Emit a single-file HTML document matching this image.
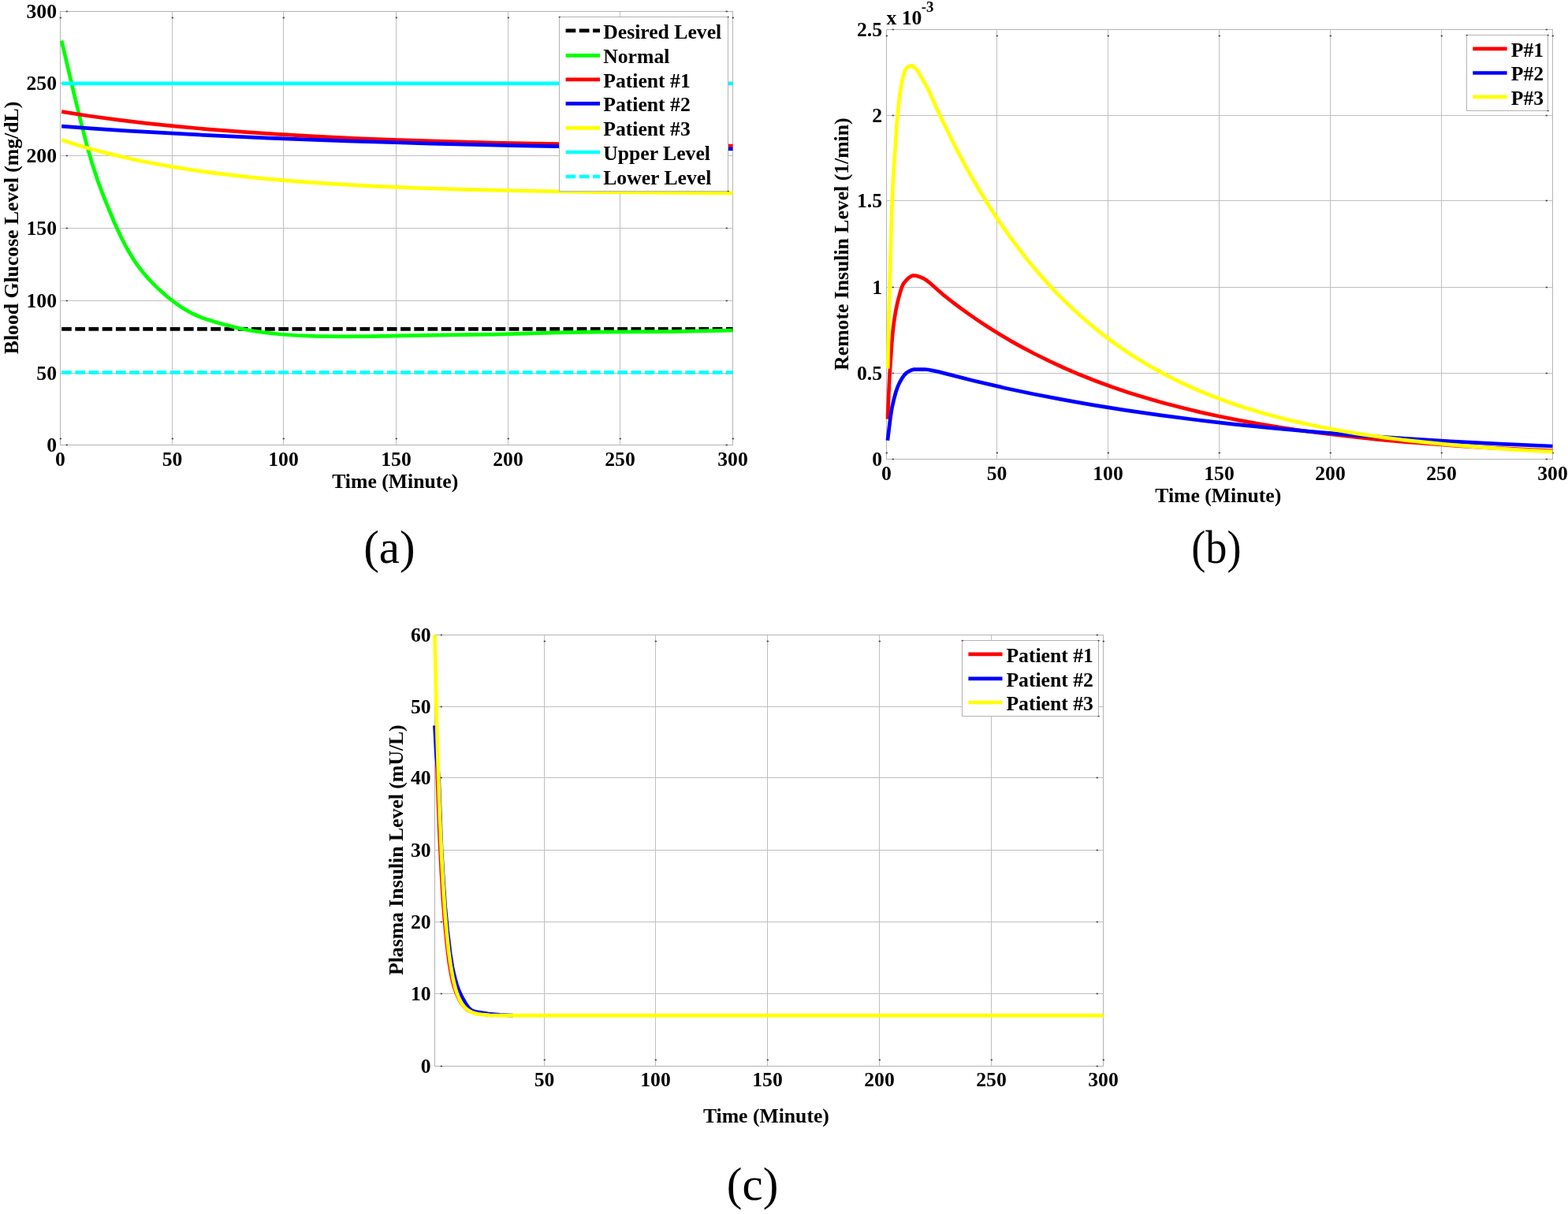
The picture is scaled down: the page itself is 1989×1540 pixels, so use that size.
<!DOCTYPE html>
<html><head><meta charset="utf-8"><title>Figure</title>
<style>
html,body{margin:0;padding:0;background:#fff;}
body{width:1989px;height:1540px;overflow:hidden;}
svg{display:block;}
text{font-family:'Liberation Serif', 'Times New Roman', serif;font-size:25.7px;font-weight:bold;fill:#000;}
</style></head><body>
<svg width="1989" height="1540" viewBox="0 0 1989 1540">
<rect width="1989" height="1540" fill="#fff"/>
<line x1="218.5" y1="14" x2="218.5" y2="565" stroke="#bfbfbf"/>
<line x1="359.5" y1="14" x2="359.5" y2="565" stroke="#bfbfbf"/>
<line x1="502.5" y1="14" x2="502.5" y2="565" stroke="#bfbfbf"/>
<line x1="644.5" y1="14" x2="644.5" y2="565" stroke="#bfbfbf"/>
<line x1="786.5" y1="14" x2="786.5" y2="565" stroke="#bfbfbf"/>
<line x1="76" y1="105.5" x2="930" y2="105.5" stroke="#bfbfbf"/>
<line x1="76" y1="197.5" x2="930" y2="197.5" stroke="#bfbfbf"/>
<line x1="76" y1="289.5" x2="930" y2="289.5" stroke="#bfbfbf"/>
<line x1="76" y1="381.5" x2="930" y2="381.5" stroke="#bfbfbf"/>
<line x1="76" y1="473.5" x2="930" y2="473.5" stroke="#bfbfbf"/>
<rect x="76.5" y="14.5" width="853" height="550" fill="none" stroke="#b3b3b3"/>
<rect x="75.7" y="21.7" width="2.2" height="1.6" fill="#3a3a3a"/>
<rect x="75.7" y="555.7" width="2.2" height="1.6" fill="#3a3a3a"/>
<rect x="217.7" y="21.7" width="2.2" height="1.6" fill="#3a3a3a"/>
<rect x="217.7" y="555.7" width="2.2" height="1.6" fill="#3a3a3a"/>
<rect x="358.7" y="21.7" width="2.2" height="1.6" fill="#3a3a3a"/>
<rect x="358.7" y="555.7" width="2.2" height="1.6" fill="#3a3a3a"/>
<rect x="501.7" y="21.7" width="2.2" height="1.6" fill="#3a3a3a"/>
<rect x="501.7" y="555.7" width="2.2" height="1.6" fill="#3a3a3a"/>
<rect x="643.7" y="21.7" width="2.2" height="1.6" fill="#3a3a3a"/>
<rect x="643.7" y="555.7" width="2.2" height="1.6" fill="#3a3a3a"/>
<rect x="785.7" y="21.7" width="2.2" height="1.6" fill="#3a3a3a"/>
<rect x="785.7" y="555.7" width="2.2" height="1.6" fill="#3a3a3a"/>
<rect x="928.7" y="21.7" width="2.2" height="1.6" fill="#3a3a3a"/>
<rect x="928.7" y="555.7" width="2.2" height="1.6" fill="#3a3a3a"/>
<rect x="83.7" y="13.7" width="2.2" height="1.6" fill="#3a3a3a"/>
<rect x="920.7" y="13.7" width="2.2" height="1.6" fill="#3a3a3a"/>
<rect x="83.7" y="104.7" width="2.2" height="1.6" fill="#3a3a3a"/>
<rect x="920.7" y="104.7" width="2.2" height="1.6" fill="#3a3a3a"/>
<rect x="83.7" y="196.7" width="2.2" height="1.6" fill="#3a3a3a"/>
<rect x="920.7" y="196.7" width="2.2" height="1.6" fill="#3a3a3a"/>
<rect x="83.7" y="288.7" width="2.2" height="1.6" fill="#3a3a3a"/>
<rect x="920.7" y="288.7" width="2.2" height="1.6" fill="#3a3a3a"/>
<rect x="83.7" y="380.7" width="2.2" height="1.6" fill="#3a3a3a"/>
<rect x="920.7" y="380.7" width="2.2" height="1.6" fill="#3a3a3a"/>
<rect x="83.7" y="472.7" width="2.2" height="1.6" fill="#3a3a3a"/>
<rect x="920.7" y="472.7" width="2.2" height="1.6" fill="#3a3a3a"/>
<rect x="83.7" y="563.7" width="2.2" height="1.6" fill="#3a3a3a"/>
<rect x="920.7" y="563.7" width="2.2" height="1.6" fill="#3a3a3a"/>
<line x1="78.1" y1="417.4" x2="929.5" y2="417.4" stroke="#000" stroke-width="4.7" stroke-dasharray="12.7 4.5"/>
<path d="M78.1,51.5 L93.1,115.6 L102.8,155.5 L109.9,183.1 L116.4,205.9 L123.8,228.7 L131.5,249.4 L144.5,281 L149.4,291.8 L154.2,302 L158.7,310.8 L163,318.5 L167.5,326.1 L172.1,333.1 L176.9,339.8 L182,346.3 L187.4,352.6 L193.4,359 L200.2,365.7 L207.8,372.6 L215.5,379 L222.9,384.7 L229.7,389.4 L236.5,393.6 L243.3,397.3 L250.4,400.6 L256.1,403 L262.1,405.1 L276.3,409.4 L301.2,415.9 L308.6,417.5 L317.7,419.2 L335.9,421.9 L355.5,424 L376.8,425.5 L400,426.4 L430.7,426.9 L471,426.6 L553.3,425.1 L630.6,424.1 L699.3,422.1 L725.4,421.6 L758.6,421.2 L851.1,420.6 L929.5,419.1" fill="none" stroke="#00ff00" stroke-width="4.7" stroke-linejoin="round"/>
<path d="M78.1,141.6 L112.4,147 L148.2,151.8 L185.4,156.3 L224.6,160.4 L265.5,164.1 L308.6,167.4 L354,170.4 L402.3,173.1 L452.6,175.5 L506.2,177.6 L563.6,179.4 L625.2,181 L691.3,182.3 L763.4,183.4 L842.3,184.4 L929.5,185.2" fill="none" stroke="#ff0000" stroke-width="4.7" stroke-linejoin="round"/>
<path d="M78.1,160.2 L118.4,163.1 L159.9,165.8 L247,170.7 L339.8,175.1 L439.5,178.9 L546.8,182.1 L662.9,184.8 L789.8,187.1 L929.5,189" fill="none" stroke="#0000ff" stroke-width="4.7" stroke-linejoin="round"/>
<path d="M78.1,177.5 L92.9,182.3 L108.2,186.9 L123.8,191.3 L139.7,195.4 L156.2,199.3 L172.9,203 L190.2,206.5 L208.1,209.8 L226.6,212.9 L245.3,215.8 L264.9,218.6 L285.1,221.1 L327.4,225.8 L372.8,229.8 L420.5,233.2 L472.4,236.1 L528.9,238.5 L591.4,240.4 L660.1,242 L737.6,243.3 L826.2,244.2 L929.5,244.9" fill="none" stroke="#ffff00" stroke-width="4.7" stroke-linejoin="round"/>
<line x1="78.1" y1="105.8" x2="929.5" y2="105.8" stroke="#00ffff" stroke-width="4.7"/>
<line x1="78.1" y1="472.5" x2="929.5" y2="472.5" stroke="#00ffff" stroke-width="4.7" stroke-dasharray="12.7 4.5"/>
<rect x="709.5" y="21.5" width="214" height="221" fill="#fff" stroke="#b3b3b3"/>
<rect x="708.7" y="20.9" width="2" height="1.4" fill="#3a3a3a"/>
<rect x="922.7" y="20.9" width="2" height="1.4" fill="#3a3a3a"/>
<rect x="922.7" y="241.9" width="2" height="1.4" fill="#3a3a3a"/>
<line x1="717.6" y1="38.9" x2="761" y2="38.9" stroke="#000" stroke-width="4.7" stroke-dasharray="12.7 4.5"/>
<text x="765.2" y="48.5">Desired Level</text>
<line x1="717.6" y1="70.3" x2="761" y2="70.3" stroke="#00ff00" stroke-width="4.7"/>
<text x="765.2" y="79.9">Normal</text>
<line x1="717.6" y1="100.9" x2="761" y2="100.9" stroke="#ff0000" stroke-width="4.7"/>
<text x="765.2" y="110.5">Patient #1</text>
<line x1="717.6" y1="131.4" x2="761" y2="131.4" stroke="#0000ff" stroke-width="4.7"/>
<text x="765.2" y="141">Patient #2</text>
<line x1="717.6" y1="162.4" x2="761" y2="162.4" stroke="#ffff00" stroke-width="4.7"/>
<text x="765.2" y="172">Patient #3</text>
<line x1="717.6" y1="193" x2="761" y2="193" stroke="#00ffff" stroke-width="4.7"/>
<text x="765.2" y="202.6">Upper Level</text>
<line x1="717.6" y1="224" x2="761" y2="224" stroke="#00ffff" stroke-width="4.7" stroke-dasharray="12.7 4.5"/>
<text x="765.2" y="233.6">Lower Level</text>
<text x="72" y="572.8" text-anchor="end">0</text>
<text x="72" y="481.8" text-anchor="end">50</text>
<text x="72" y="389.8" text-anchor="end">100</text>
<text x="72" y="297.8" text-anchor="end">150</text>
<text x="72" y="205.8" text-anchor="end">200</text>
<text x="72" y="113.8" text-anchor="end">250</text>
<text x="72" y="22.8" text-anchor="end">300</text>
<text x="76.5" y="590.9" text-anchor="middle">0</text>
<text x="218.5" y="590.9" text-anchor="middle">50</text>
<text x="359.5" y="590.9" text-anchor="middle">100</text>
<text x="502.5" y="590.9" text-anchor="middle">150</text>
<text x="644.5" y="590.9" text-anchor="middle">200</text>
<text x="786.5" y="590.9" text-anchor="middle">250</text>
<text x="929.5" y="590.9" text-anchor="middle">300</text>
<text x="501.2" y="619" text-anchor="middle">Time (Minute)</text>
<text transform="translate(22.7,289) rotate(-90)" text-anchor="middle">Blood Glucose Level (mg/dL)</text>
<text x="493.9" y="714.1" text-anchor="middle" style="font-size:59px;font-weight:normal">(a)</text>
<line x1="1264.5" y1="37" x2="1264.5" y2="583" stroke="#bfbfbf"/>
<line x1="1405.5" y1="37" x2="1405.5" y2="583" stroke="#bfbfbf"/>
<line x1="1546.5" y1="37" x2="1546.5" y2="583" stroke="#bfbfbf"/>
<line x1="1687.5" y1="37" x2="1687.5" y2="583" stroke="#bfbfbf"/>
<line x1="1828.5" y1="37" x2="1828.5" y2="583" stroke="#bfbfbf"/>
<line x1="1124" y1="146.5" x2="1970" y2="146.5" stroke="#bfbfbf"/>
<line x1="1124" y1="254.5" x2="1970" y2="254.5" stroke="#bfbfbf"/>
<line x1="1124" y1="364.5" x2="1970" y2="364.5" stroke="#bfbfbf"/>
<line x1="1124" y1="473.5" x2="1970" y2="473.5" stroke="#bfbfbf"/>
<rect x="1124.5" y="37.5" width="845" height="545" fill="none" stroke="#b3b3b3"/>
<rect x="1123.7" y="44.7" width="2.2" height="1.6" fill="#3a3a3a"/>
<rect x="1123.7" y="573.7" width="2.2" height="1.6" fill="#3a3a3a"/>
<rect x="1263.7" y="44.7" width="2.2" height="1.6" fill="#3a3a3a"/>
<rect x="1263.7" y="573.7" width="2.2" height="1.6" fill="#3a3a3a"/>
<rect x="1404.7" y="44.7" width="2.2" height="1.6" fill="#3a3a3a"/>
<rect x="1404.7" y="573.7" width="2.2" height="1.6" fill="#3a3a3a"/>
<rect x="1545.7" y="44.7" width="2.2" height="1.6" fill="#3a3a3a"/>
<rect x="1545.7" y="573.7" width="2.2" height="1.6" fill="#3a3a3a"/>
<rect x="1686.7" y="44.7" width="2.2" height="1.6" fill="#3a3a3a"/>
<rect x="1686.7" y="573.7" width="2.2" height="1.6" fill="#3a3a3a"/>
<rect x="1827.7" y="44.7" width="2.2" height="1.6" fill="#3a3a3a"/>
<rect x="1827.7" y="573.7" width="2.2" height="1.6" fill="#3a3a3a"/>
<rect x="1968.7" y="44.7" width="2.2" height="1.6" fill="#3a3a3a"/>
<rect x="1968.7" y="573.7" width="2.2" height="1.6" fill="#3a3a3a"/>
<rect x="1131.7" y="36.7" width="2.2" height="1.6" fill="#3a3a3a"/>
<rect x="1960.7" y="36.7" width="2.2" height="1.6" fill="#3a3a3a"/>
<rect x="1131.7" y="145.7" width="2.2" height="1.6" fill="#3a3a3a"/>
<rect x="1960.7" y="145.7" width="2.2" height="1.6" fill="#3a3a3a"/>
<rect x="1131.7" y="253.7" width="2.2" height="1.6" fill="#3a3a3a"/>
<rect x="1960.7" y="253.7" width="2.2" height="1.6" fill="#3a3a3a"/>
<rect x="1131.7" y="363.7" width="2.2" height="1.6" fill="#3a3a3a"/>
<rect x="1960.7" y="363.7" width="2.2" height="1.6" fill="#3a3a3a"/>
<rect x="1131.7" y="472.7" width="2.2" height="1.6" fill="#3a3a3a"/>
<rect x="1960.7" y="472.7" width="2.2" height="1.6" fill="#3a3a3a"/>
<rect x="1131.7" y="581.7" width="2.2" height="1.6" fill="#3a3a3a"/>
<rect x="1960.7" y="581.7" width="2.2" height="1.6" fill="#3a3a3a"/>
<path d="M1125.9,531.7 L1128.4,477 L1131,438.6 L1132.1,425.1 L1133.2,414.5 L1134.9,402.3 L1136.6,392.4 L1138.6,383.2 L1141.4,372.5 L1143.6,365.3 L1145.6,360.6 L1146.7,358.9 L1149,356.2 L1151.2,353.8 L1153.2,352.1 L1154.9,350.9 L1156.6,350.1 L1158.3,349.6 L1159.9,349.5 L1162.8,349.9 L1166.1,350.9 L1172.3,353.7 L1175.1,355.4 L1178.5,358.1 L1197.1,374.4 L1208,383 L1218.5,390.9 L1228.9,398.4 L1239.3,405.6 L1250,412.7 L1265.1,422.3 L1280.6,431.6 L1296.4,440.4 L1312.7,449 L1331.3,458.2 L1350.4,467 L1369.8,475.3 L1389.8,483.2 L1410.3,490.8 L1431.4,497.9 L1453,504.6 L1475.3,511 L1498.6,517.1 L1522.5,522.9 L1547.3,528.3 L1572.9,533.4 L1599.3,538.1 L1626.6,542.5 L1655,546.7 L1684.6,550.5 L1714.9,554 L1746.7,557.3 L1779.6,560.3 L1814.2,563 L1850.2,565.6 L1887.9,567.8 L1927.6,569.9 L1969.5,571.8" fill="none" stroke="#ff0000" stroke-width="4.7" stroke-linejoin="round"/>
<path d="M1125.9,558.7 L1129.3,531 L1130.7,521.7 L1131.8,515.6 L1134.1,505.8 L1136.3,497.6 L1138.6,490.9 L1141.1,485.4 L1144.2,479.8 L1147.3,475.5 L1149.8,473 L1153.8,470.6 L1156.9,469.2 L1159.4,468.6 L1172.3,468.5 L1177.7,469 L1189.5,471.4 L1236.2,483.2 L1277,492.7 L1310.4,499.7 L1345,506.4 L1385.5,513.6 L1427.7,520.4 L1471.3,526.7 L1516.6,532.5 L1564.7,538.1 L1615.1,543.2 L1667.4,547.9 L1722.2,552.3 L1779.6,556.2 L1839.5,559.8 L1902.8,563.1 L1969.5,566" fill="none" stroke="#0000ff" stroke-width="4.7" stroke-linejoin="round"/>
<path d="M1126.2,467.6 L1128.2,375.1 L1131.3,263.7 L1133.2,223.6 L1137.4,160.2 L1139.1,140.4 L1140.5,127.1 L1142.8,111.1 L1144.7,100.8 L1147.3,91.5 L1148.1,89.2 L1149,87.6 L1150.9,85.6 L1152.9,84.2 L1154.6,83.4 L1156.3,83.3 L1157.7,83.8 L1159.1,84.8 L1162.5,88 L1163.6,89.3 L1165.6,92.4 L1174.8,108.6 L1179.3,117.4 L1186.4,133.5 L1195.1,152.3 L1208.6,179.8 L1216.2,194.6 L1224,209.3 L1231.9,223.4 L1240.1,237.5 L1253.9,260.1 L1267.9,281.6 L1282.3,302 L1297.2,321.8 L1305.6,332.4 L1314.3,342.8 L1323,352.9 L1332,362.8 L1341,372.3 L1350.3,381.6 L1359.6,390.6 L1369.1,399.4 L1378.7,407.8 L1388.5,416 L1398.4,423.9 L1408.5,431.5 L1418.9,439.1 L1429.3,446.2 L1440,453.2 L1450.7,459.8 L1461.7,466.2 L1472.9,472.4 L1484.4,478.5 L1496.2,484.4 L1508.3,490 L1520.4,495.3 L1532.8,500.5 L1545.5,505.4 L1558.4,510.1 L1571.6,514.7 L1585.1,519 L1598.9,523.2 L1612.9,527.1 L1627.6,531 L1642.5,534.6 L1657.7,538 L1673.1,541.3 L1689.1,544.4 L1722,550.1 L1756.9,555.2 L1794,559.7 L1833.4,563.7 L1875.6,567.2 L1920.9,570.3 L1969.5,572.9" fill="none" stroke="#ffff00" stroke-width="4.7" stroke-linejoin="round"/>
<rect x="1860.5" y="44.5" width="103" height="96" fill="#fff" stroke="#b3b3b3"/>
<rect x="1859.7" y="43.9" width="2" height="1.4" fill="#3a3a3a"/>
<rect x="1962.7" y="43.9" width="2" height="1.4" fill="#3a3a3a"/>
<rect x="1962.7" y="139.9" width="2" height="1.4" fill="#3a3a3a"/>
<line x1="1868.3" y1="61.8" x2="1911.6" y2="61.8" stroke="#ff0000" stroke-width="4.7"/>
<text x="1916.8" y="71.6">P#1</text>
<line x1="1868.3" y1="92.5" x2="1911.6" y2="92.5" stroke="#0000ff" stroke-width="4.7"/>
<text x="1916.8" y="102.3">P#2</text>
<line x1="1868.3" y1="122.8" x2="1911.6" y2="122.8" stroke="#ffff00" stroke-width="4.7"/>
<text x="1916.8" y="132.6">P#3</text>
<text x="1119" y="590.8" text-anchor="end">0</text>
<text x="1119" y="481.8" text-anchor="end">0.5</text>
<text x="1119" y="372.8" text-anchor="end">1</text>
<text x="1119" y="262.8" text-anchor="end">1.5</text>
<text x="1119" y="154.8" text-anchor="end">2</text>
<text x="1119" y="45.8" text-anchor="end">2.5</text>
<text x="1124.5" y="609.1" text-anchor="middle">0</text>
<text x="1264.5" y="609.1" text-anchor="middle">50</text>
<text x="1405.5" y="609.1" text-anchor="middle">100</text>
<text x="1546.5" y="609.1" text-anchor="middle">150</text>
<text x="1687.5" y="609.1" text-anchor="middle">200</text>
<text x="1828.5" y="609.1" text-anchor="middle">250</text>
<text x="1969.5" y="609.1" text-anchor="middle">300</text>
<text x="1545.3" y="636.7" text-anchor="middle">Time (Minute)</text>
<text transform="translate(1076.3,309.6) rotate(-90)" text-anchor="middle">Remote Insulin Level (1/min)</text>
<text x="1124.4" y="31">x 10</text>
<text x="1168.8" y="15.1" style="font-size:18.8px">-3</text>
<text x="0" y="0" text-anchor="middle" style="font-size:59px;font-weight:normal" transform="translate(1542.9,713.8) scale(0.92,1)">(b)</text>
<line x1="690.5" y1="805" x2="690.5" y2="1353" stroke="#bfbfbf"/>
<line x1="831.5" y1="805" x2="831.5" y2="1353" stroke="#bfbfbf"/>
<line x1="973.5" y1="805" x2="973.5" y2="1353" stroke="#bfbfbf"/>
<line x1="1115.5" y1="805" x2="1115.5" y2="1353" stroke="#bfbfbf"/>
<line x1="1257.5" y1="805" x2="1257.5" y2="1353" stroke="#bfbfbf"/>
<line x1="551" y1="896.5" x2="1400" y2="896.5" stroke="#bfbfbf"/>
<line x1="551" y1="986.5" x2="1400" y2="986.5" stroke="#bfbfbf"/>
<line x1="551" y1="1078.5" x2="1400" y2="1078.5" stroke="#bfbfbf"/>
<line x1="551" y1="1169.5" x2="1400" y2="1169.5" stroke="#bfbfbf"/>
<line x1="551" y1="1260.5" x2="1400" y2="1260.5" stroke="#bfbfbf"/>
<rect x="551.5" y="805.5" width="848" height="547" fill="none" stroke="#b3b3b3"/>
<rect x="689.7" y="812.7" width="2.2" height="1.6" fill="#3a3a3a"/>
<rect x="689.7" y="1343.7" width="2.2" height="1.6" fill="#3a3a3a"/>
<rect x="830.7" y="812.7" width="2.2" height="1.6" fill="#3a3a3a"/>
<rect x="830.7" y="1343.7" width="2.2" height="1.6" fill="#3a3a3a"/>
<rect x="972.7" y="812.7" width="2.2" height="1.6" fill="#3a3a3a"/>
<rect x="972.7" y="1343.7" width="2.2" height="1.6" fill="#3a3a3a"/>
<rect x="1114.7" y="812.7" width="2.2" height="1.6" fill="#3a3a3a"/>
<rect x="1114.7" y="1343.7" width="2.2" height="1.6" fill="#3a3a3a"/>
<rect x="1256.7" y="812.7" width="2.2" height="1.6" fill="#3a3a3a"/>
<rect x="1256.7" y="1343.7" width="2.2" height="1.6" fill="#3a3a3a"/>
<rect x="1398.7" y="812.7" width="2.2" height="1.6" fill="#3a3a3a"/>
<rect x="1398.7" y="1343.7" width="2.2" height="1.6" fill="#3a3a3a"/>
<rect x="558.7" y="804.7" width="2.2" height="1.6" fill="#3a3a3a"/>
<rect x="1390.7" y="804.7" width="2.2" height="1.6" fill="#3a3a3a"/>
<rect x="558.7" y="895.7" width="2.2" height="1.6" fill="#3a3a3a"/>
<rect x="1390.7" y="895.7" width="2.2" height="1.6" fill="#3a3a3a"/>
<rect x="558.7" y="985.7" width="2.2" height="1.6" fill="#3a3a3a"/>
<rect x="1390.7" y="985.7" width="2.2" height="1.6" fill="#3a3a3a"/>
<rect x="558.7" y="1077.7" width="2.2" height="1.6" fill="#3a3a3a"/>
<rect x="1390.7" y="1077.7" width="2.2" height="1.6" fill="#3a3a3a"/>
<rect x="558.7" y="1168.7" width="2.2" height="1.6" fill="#3a3a3a"/>
<rect x="1390.7" y="1168.7" width="2.2" height="1.6" fill="#3a3a3a"/>
<rect x="558.7" y="1259.7" width="2.2" height="1.6" fill="#3a3a3a"/>
<rect x="1390.7" y="1259.7" width="2.2" height="1.6" fill="#3a3a3a"/>
<rect x="558.7" y="1351.7" width="2.2" height="1.6" fill="#3a3a3a"/>
<rect x="1390.7" y="1351.7" width="2.2" height="1.6" fill="#3a3a3a"/>
<path d="M551.5,920.4 L552,922.6 L552.5,928.4 L553.8,951.7 L555.7,1009.6 L557.6,1059.7 L559.8,1104.5 L561.9,1140.4 L564.1,1168.8 L567,1198.9 L569.6,1220 L572.7,1238.3 L574.2,1245.2 L576.2,1252.3 L578.4,1258.6 L580.9,1264.7 L583.2,1269.2 L585.8,1273.4 L588.3,1276.6 L591.4,1279.7 L593.2,1281.3 L594.8,1282.2 L603,1284.4 L614.1,1286.6 L625.2,1287.8" fill="none" stroke="#ff0000" stroke-width="4.7" stroke-linejoin="round"/>
<path d="M551.5,920.4 L553.2,953.2 L553.9,962 L555.8,979 L556.7,991.1 L560,1076.9 L562.4,1117.3 L564.7,1150.2 L567.6,1180.3 L571.1,1209.3 L573.9,1226.9 L575.6,1234.5 L577.5,1242.1 L579.5,1249.2 L581.6,1255.1 L583.5,1259.7 L586.4,1265.3 L589.8,1271.5 L592.7,1276 L595.5,1279.4 L598,1281.5 L600.3,1282.5 L604.2,1283.5 L619.7,1286.1 L634,1287.4 L650.8,1288.1" fill="none" stroke="#0000ff" stroke-width="4.7" stroke-linejoin="round"/>
<path d="M551.5,805.5 L552.9,869.6 L554.6,935.4 L556.3,990.8 L558,1037.5 L560,1082.8 L562,1120 L564.2,1154.3 L566.5,1181.6 L569,1205.7 L571.6,1224.3 L574.4,1240.2 L576.1,1247.7 L577.8,1254.1 L579.5,1259.5 L581.5,1264.7 L583.5,1268.9 L585.4,1272.4 L587.7,1275.6 L590,1278.2 L592.8,1280.7 L595.6,1282.6 L598.7,1284.1 L602.1,1285.3 L606.1,1286.3 L610.3,1286.9 L621.3,1287.8 L639.2,1288.2 L1399.5,1288.2" fill="none" stroke="#ffff00" stroke-width="4.7" stroke-linejoin="round"/>
<rect x="1220.5" y="812.5" width="173" height="96" fill="#fff" stroke="#b3b3b3"/>
<rect x="1219.7" y="811.9" width="2" height="1.4" fill="#3a3a3a"/>
<rect x="1392.7" y="811.9" width="2" height="1.4" fill="#3a3a3a"/>
<rect x="1392.7" y="907.9" width="2" height="1.4" fill="#3a3a3a"/>
<line x1="1228.4" y1="829.9" x2="1271.5" y2="829.9" stroke="#ff0000" stroke-width="4.7"/>
<text x="1276.4" y="839.7">Patient #1</text>
<line x1="1228.4" y1="860.8" x2="1271.5" y2="860.8" stroke="#0000ff" stroke-width="4.7"/>
<text x="1276.4" y="870.6">Patient #2</text>
<line x1="1228.4" y1="891" x2="1271.5" y2="891" stroke="#ffff00" stroke-width="4.7"/>
<text x="1276.4" y="900.8">Patient #3</text>
<text x="546.6" y="1360.8" text-anchor="end">0</text>
<text x="546.6" y="1268.8" text-anchor="end">10</text>
<text x="546.6" y="1177.8" text-anchor="end">20</text>
<text x="546.6" y="1086.8" text-anchor="end">30</text>
<text x="546.6" y="994.8" text-anchor="end">40</text>
<text x="546.6" y="904.8" text-anchor="end">50</text>
<text x="546.6" y="813.8" text-anchor="end">60</text>
<text x="690.5" y="1378" text-anchor="middle">50</text>
<text x="831.5" y="1378" text-anchor="middle">100</text>
<text x="973.5" y="1378" text-anchor="middle">150</text>
<text x="1115.5" y="1378" text-anchor="middle">200</text>
<text x="1257.5" y="1378" text-anchor="middle">250</text>
<text x="1399.5" y="1378" text-anchor="middle">300</text>
<text x="971.9" y="1423.8" text-anchor="middle">Time (Minute)</text>
<text transform="translate(511.4,1078.2) rotate(-90)" text-anchor="middle">Plasma Insulin Level (mU/L)</text>
<text x="954.6" y="1522.2" text-anchor="middle" style="font-size:59px;font-weight:normal">(c)</text>
</svg>
</body></html>
